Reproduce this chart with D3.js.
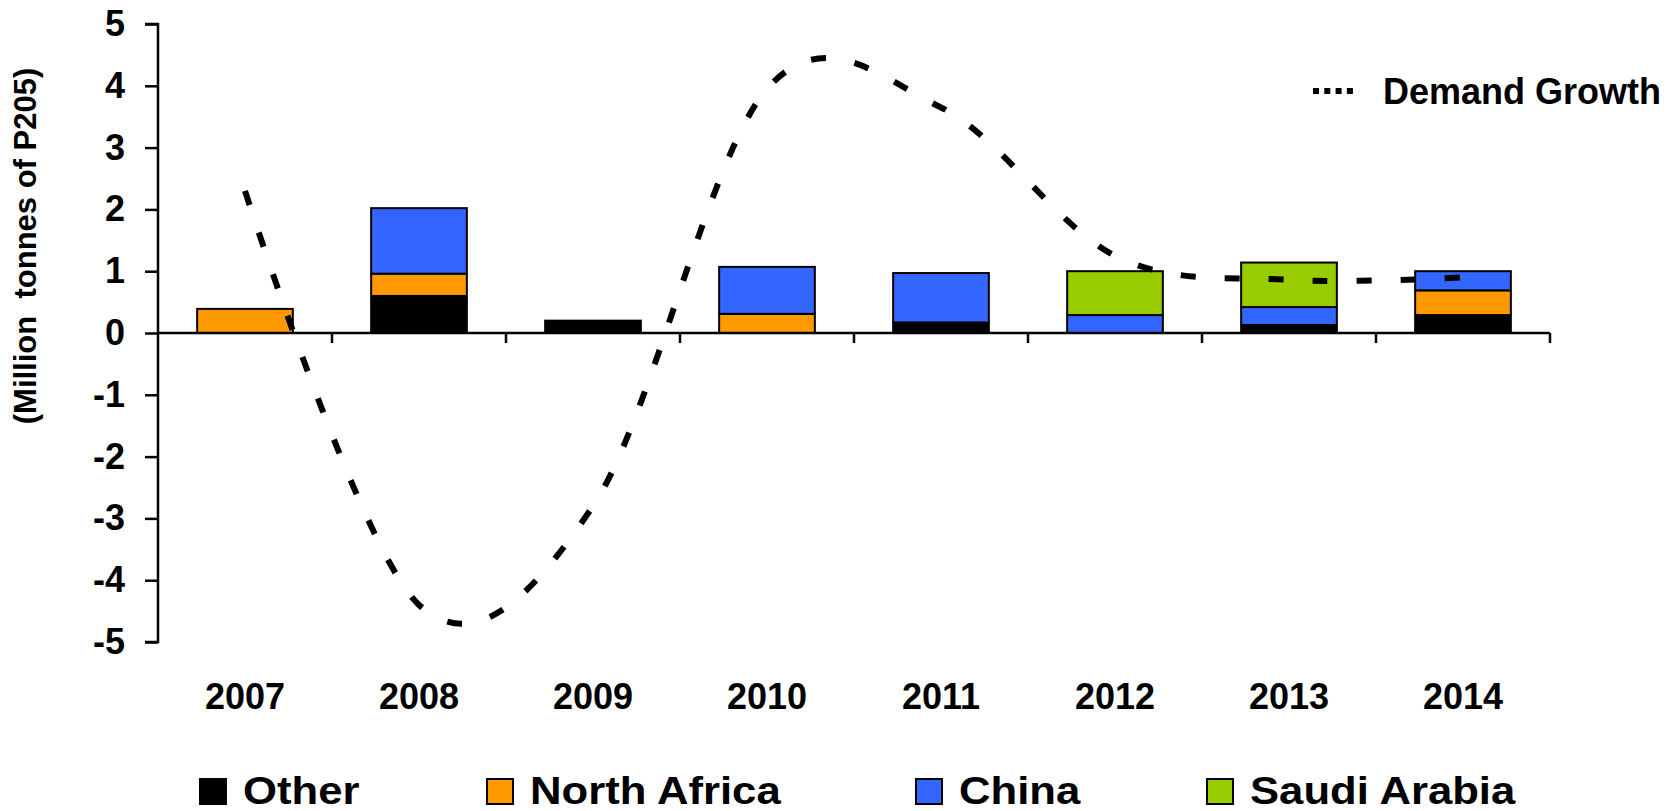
<!DOCTYPE html>
<html>
<head>
<meta charset="utf-8">
<script src="https://cdn.jsdelivr.net/npm/d3@7"></script>
<style>
  body { margin: 0; background: #fff; }
  svg { display: block; font-family: "Liberation Sans", Arial, sans-serif; font-weight: bold; }
</style>
</head>
<body>
<svg id="chart"></svg>
<script>
// Datos
const years = ["2007", "2008", "2009", "2010", "2011", "2012", "2013", "2014"];
const other = [0, 0.6, 0.2, 0, 0.17, 0, 0.13, 0.29];
const northAfrica = [0.39, 0.36, 0, 0.31, 0, 0, 0, 0.4];
const china = [0, 1.06, 0, 0.76, 0.8, 0.29, 0.29, 0.31];
const saudiArabia = [0, 0, 0, 0, 0, 0.71, 0.72, 0];
const demandGrowth = [2.3, -4.4, -2.8, 3.95, 3.65, 1.25, 0.86, 0.9];
const yTicks = [-5, -4, -3, -2, -1, 0, 1, 2, 3, 4, 5];

const seriesNames = ["Other", "North Africa", "China", "Saudi Arabia"];
const seriesColors = ["#000000", "#FF9900", "#3366FF", "#99CC00"];

const width = 1670;
const height = 811;

const svg = d3.select("#chart")
    .attr("width", width)
    .attr("height", height);

// Escalas
const x = d3.scaleBand()
    .domain(years)
    .range([158, 1550])
    .paddingInner(0.45)
    .paddingOuter(0.225);

const y = d3.scaleLinear()
    .domain([-5, 5])
    .range([642, 24]);

// Tabla para el apilado
const table = years.map((yr, i) => ({
    year: yr,
    "Other": other[i],
    "North Africa": northAfrica[i],
    "China": china[i],
    "Saudi Arabia": saudiArabia[i]
}));

const stacked = d3.stack().keys(seriesNames)(table);

// Barras apiladas
svg.append("g")
    .selectAll("g")
    .data(stacked)
    .enter().append("g")
    .attr("fill", (d, i) => seriesColors[i])
    .selectAll("rect")
    .data(d => d.filter(s => s[1] - s[0] > 0))
    .enter().append("rect")
    .attr("x", d => x(d.data.year))
    .attr("y", d => y(d[1]))
    .attr("width", x.bandwidth())
    .attr("height", d => y(d[0]) - y(d[1]))
    .attr("stroke", "#000")
    .attr("stroke-width", 2);

// Eje Y
const yAxis = svg.append("g")
    .attr("transform", `translate(${x.range()[0]},0)`)
    .call(d3.axisLeft(y).tickValues(yTicks).tickSize(13).tickPadding(20).tickFormat(d => String(d)));

yAxis.select(".domain").attr("stroke-width", 2.5).attr("d", `M-13,${y(-5)}H0V${y(5)}H-13`);
yAxis.selectAll(".tick line").attr("stroke-width", 2.5);
yAxis.selectAll("text")
    .attr("font-size", 36)
    .attr("font-family", "Liberation Sans, Arial, sans-serif")
    .attr("font-weight", "bold")
    .attr("fill", "#000");

// Eje X en el cero, con marcas entre categorías
const boundaries = d3.range(years.length + 1).map(i => x.range()[0] + i * x.step());

svg.append("line")
    .attr("x1", x.range()[0])
    .attr("x2", x.range()[1])
    .attr("y1", y(0))
    .attr("y2", y(0))
    .attr("stroke", "#000")
    .attr("stroke-width", 2.5);

svg.append("g")
    .selectAll("line")
    .data(boundaries.slice(1))
    .enter().append("line")
    .attr("x1", d => d)
    .attr("x2", d => d)
    .attr("y1", y(0))
    .attr("y2", y(0) + 10)
    .attr("stroke", "#000")
    .attr("stroke-width", 2.5);

// Etiquetas de categorías abajo
const xAxis = svg.append("g")
    .attr("transform", `translate(0,${y(-5)})`)
    .call(d3.axisBottom(x).tickSize(0).tickPadding(41));

xAxis.select(".domain").remove();
xAxis.selectAll("text")
    .attr("font-size", 36)
    .attr("font-family", "Liberation Sans, Arial, sans-serif")
    .attr("font-weight", "bold")
    .attr("fill", "#000");

// Título del eje Y
svg.append("text")
    .attr("transform", `translate(36,246) rotate(-90)`)
    .attr("text-anchor", "middle")
    .attr("font-size", 31)
    .attr("xml:space", "preserve")
    .style("white-space", "pre")
    .text("(Million  tonnes of P205)");

// Línea de demanda (suavizada, discontinua)
const line = d3.line()
    .x((d, i) => x(years[i]) + x.bandwidth() / 2)
    .y(d => y(d))
    .curve(d3.curveCardinal.tension(0));

svg.append("path")
    .datum(demandGrowth)
    .attr("d", line)
    .attr("fill", "none")
    .attr("stroke", "#000")
    .attr("stroke-width", 6)
    .attr("stroke-dasharray", "15,29");

// Leyenda de la línea
svg.append("line")
    .attr("x1", 1313)
    .attr("x2", 1357)
    .attr("y1", 91)
    .attr("y2", 91)
    .attr("stroke", "#000")
    .attr("stroke-width", 6)
    .attr("stroke-dasharray", "6,5.3");

svg.append("text")
    .attr("x", 1383)
    .attr("y", 104)
    .attr("font-size", 36)
    .text("Demand Growth");

// Leyenda inferior
const legendX = [200, 487, 916, 1207];
const legend = svg.append("g");

const items = legend.selectAll("g")
    .data(seriesNames)
    .enter().append("g")
    .attr("transform", (d, i) => `translate(${legendX[i]},779)`);

items.append("rect")
    .attr("width", 26)
    .attr("height", 25)
    .attr("fill", (d, i) => seriesColors[i])
    .attr("stroke", "#000")
    .attr("stroke-width", 2);

items.append("text")
    .attr("transform", "translate(43,25) scale(1.12,1)")
    .attr("font-size", 39)
    .text(d => d);
</script>
</body>
</html>
